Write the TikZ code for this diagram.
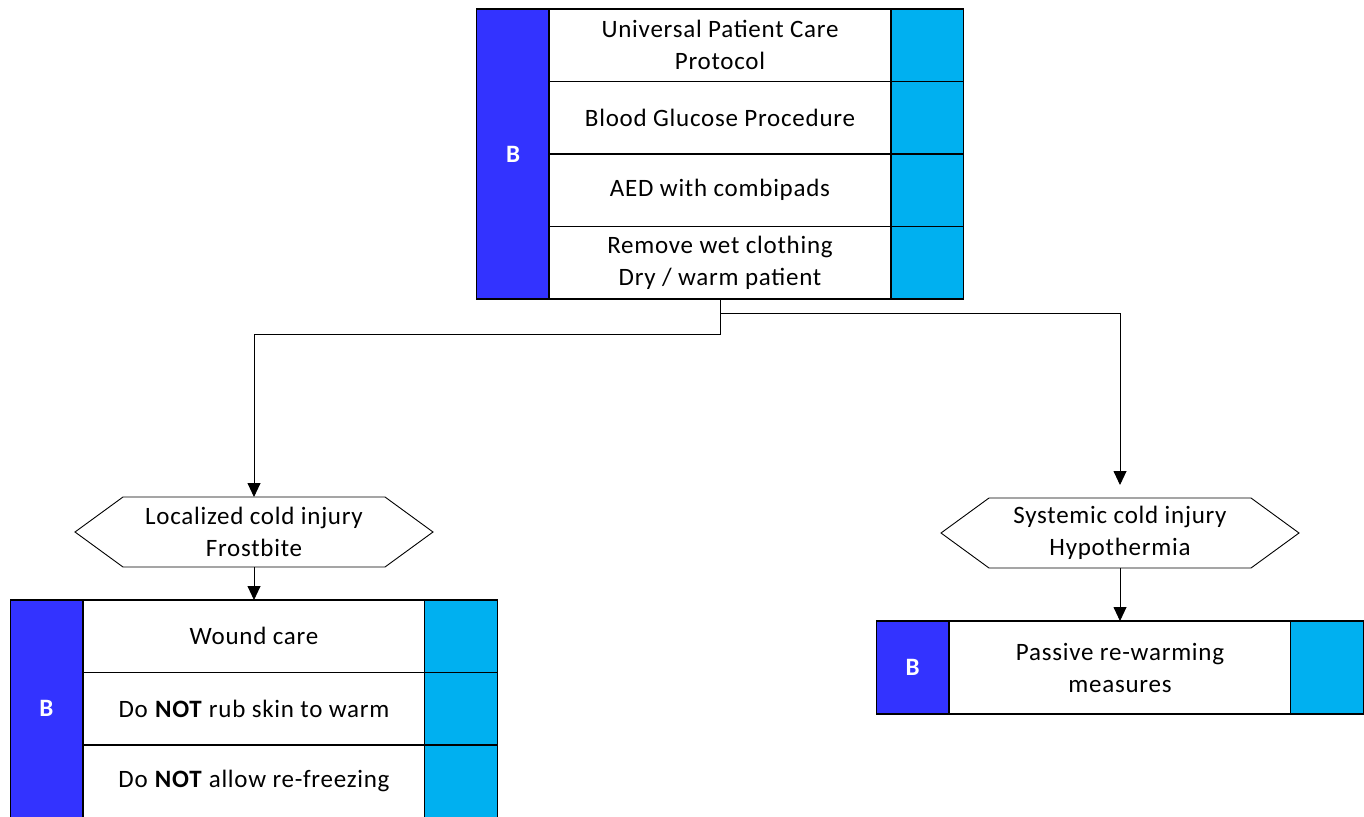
\documentclass[tikz,border=0pt]{standalone}
\usepackage{fontspec}
\setmainfont{Carlito}[LetterSpace=3]
\usetikzlibrary{arrows.meta}
\definecolor{bandblue}{HTML}{3333FF}
\definecolor{tagblue}{HTML}{00B0F0}
\begin{document}
\begin{tikzpicture}[x=1pt,y=-1pt,
  every node/.style={font=\fontsize{25}{32}\selectfont},
  cellbox/.style={draw=black, line width=1.1pt, fill=white, minimum width=342pt,
    minimum height=72.5pt, align=center, inner sep=0pt, outer sep=0pt},
  bandbox/.style={draw=black, line width=1.1pt, fill=bandblue, minimum width=72.5pt,
    inner sep=0pt, outer sep=0pt, text=white, font=\fontsize{25}{32}\selectfont\bfseries},
  tagbox/.style={draw=black, line width=1.1pt, fill=tagblue, minimum width=72.5pt,
    minimum height=72.5pt, inner sep=0pt, outer sep=0pt},
  hexnode/.style={minimum width=262pt, minimum height=70pt, align=center,
    inner sep=0pt, outer sep=0pt},
  hexline/.style={draw=black, line width=0.9pt, fill=white, line join=miter},
  flow/.style={draw=black, line width=0.9pt, -{Triangle[width=13pt,length=14pt]}}
]
\useasboundingbox (0,0) rectangle (1364,816);

% ---- top protocol block ----
\node[bandbox, minimum height=290pt] (tb) at (513,154) {B};
\node[cellbox] (t1) at (720,45.25) {Universal Patient Care\\Protocol};
\node[cellbox] (t2) at (720,117.75) {Blood Glucose Procedure};
\node[cellbox] (t3) at (720,190.25) {AED with combipads};
\node[cellbox] (t4) at (720,262.75) {Remove wet clothing\\Dry / warm patient};
\node[tagbox] (tc1) at (927.5,45.25) {};
\node[tagbox] (tc2) at (927.5,117.75) {};
\node[tagbox] (tc3) at (927.5,190.25) {};
\node[tagbox] (tc4) at (927.5,262.75) {};

% ---- decision hexagons ----
\node[hexnode] (lhex) at (254,532) {};
\path[hexline] (lhex.north west) -- (lhex.north east) -- ([xshift=48pt]lhex.east)
  -- (lhex.south east) -- (lhex.south west) -- ([xshift=-48pt]lhex.west) -- cycle;
\node[hexnode] at (lhex.center) {Localized cold injury\\Frostbite};

\node[hexnode] (rhex) at (1120,533) {};
\path[hexline] (rhex.north west) -- (rhex.north east) -- ([xshift=48pt]rhex.east)
  -- (rhex.south east) -- (rhex.south west) -- ([xshift=-48pt]rhex.west) -- cycle;
\node[hexnode] at (rhex.center) {Systemic cold injury\\Hypothermia};

% ---- frostbite block ----
\node[bandbox, minimum height=217.5pt] (lb) at (46.5,708.75) {B};
\node[cellbox] (l1) at (254,636.25) {Wound care};
\node[cellbox] (l2) at (254,708.75) {Do \textbf{NOT} rub skin to warm};
\node[cellbox] (l3) at (254,781.25) {Do \textbf{NOT} allow re-freezing};
\node[tagbox] (lc1) at (461,636.25) {};
\node[tagbox] (lc2) at (461,708.75) {};
\node[tagbox] (lc3) at (461,781.25) {};

% ---- hypothermia block ----
\node[bandbox, minimum height=93pt] (rb) at (912.5,667.5) {B};
\node[cellbox, minimum height=93pt] (r1) at (1120,667.5) {Passive re-warming\\measures};
\node[tagbox, minimum height=93pt] (rc1) at (1327,667.5) {};

% ---- connectors ----
\draw[flow] (t4.south) -- ++(0,35) -| (lhex.north);
\draw[flow, shorten >=13pt] (t4.south) ++(0,14) -| (rhex.north);
\draw[flow] (lhex.south) -- (l1.north);
\draw[flow] (rhex.south) -- (r1.north);
\end{tikzpicture}
\end{document}
